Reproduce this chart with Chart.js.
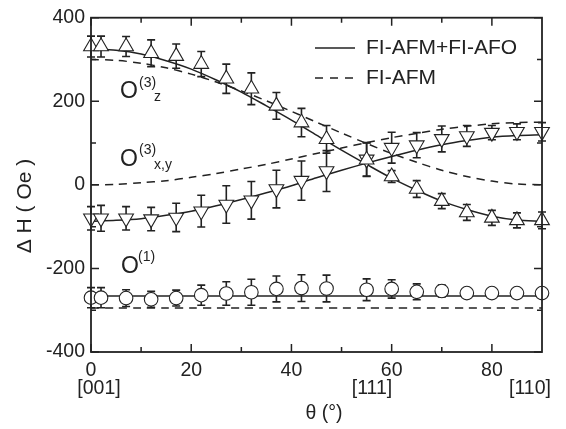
<!DOCTYPE html>
<html>
<head>
<meta charset="utf-8">
<script src="https://cdn.jsdelivr.net/npm/chart.js@4"></script>
<style>
html, body { margin: 0; padding: 0; background: #fff; }
</style>
</head>
<body>
<canvas id="chart" width="566" height="429"></canvas>
<script>
// measured angles (deg)
const angles = [0, 2, 7, 12, 17, 22, 27, 32, 37, 42, 47, 55, 60, 65, 70, 75, 80, 85, 90];
// O(3)z - up triangles
const o3zValues = [331, 331, 331, 315, 308, 289, 254, 230, 189, 149, 109, 60, 20, -10, -39, -66, -79, -85, -85];
const o3zErrors = [25, 25, 24, 32, 29, 30, 35, 38, 32, 34, 33, 40, 14, 20, 18, 19, 18, 18, 20];
// O(3)x,y - down triangles
const o3xyValues = [-80, -80, -80, -82, -78, -63, -47, -37, -10, 10, 33, 61, 89, 95, 110, 117, 125, 127, 127];
const o3xyErrors = [28, 31, 28, 28, 34, 38, 45, 45, 45, 47, 49, 40, 37, 30, 31, 25, 17, 19, 22];
// O(1) - circles
const o1Values = [-270, -270, -271, -274, -271, -264, -260, -257, -249, -247, -248, -251, -249, -256, -254, -259, -259, -259, -259];
const o1Errors = [24, 24, 20, 19, 19, 24, 28, 31, 31, 32, 32, 26, 22, 19, 14, 0, 0, 0, 0];

// model curves
const fitAngles = [0, 5, 10, 15, 20, 25, 30, 35, 40, 45, 50, 55, 60, 65, 70, 75, 80, 85, 90];
const fitO3zFull = [325, 322, 313, 297, 277, 251, 222, 189, 155, 119, 83, 49, 16, -13, -39, -59, -75, -84, -87];
const fitO3zAfm = [300, 298, 291, 280, 265, 246, 225, 201, 176, 150, 124, 99, 75, 54, 35, 20, 9, 2, 0];
const fitO3xyFull = [-87, -85, -81, -73, -63, -50, -35, -19, -2, 17, 35, 52, 68, 83, 96, 106, 114, 118, 120];
const fitO3xyAfm = [0, 1, 5, 10, 18, 27, 38, 49, 62, 75, 88, 101, 113, 123, 133, 140, 146, 149, 150];
const fitO1Full = [-266, -266, -266, -266, -266, -266, -266, -266, -266, -266, -266, -266, -266, -266, -266, -266, -266, -266, -266];
const fitO1Afm = [-295, -295, -295, -295, -295, -295, -295, -295, -295, -295, -295, -295, -295, -295, -295, -295, -295, -295, -295];

const xTicks = [0, 20, 40, 60, 80];
const xMinorTicks = [10, 30, 50, 70];
const yTicks = [-400, -200, 0, 200, 400];
const yMinorTicks = [-300, -100, 100, 300];
const legendLabels = ["FI-AFM+FI-AFO", "FI-AFM"];

const ink = "#222";
const fontFamily = "'Liberation Sans', Arial, sans-serif";

function toPoints(xs, ys) {
	return xs.map((x, i) => ({x: x, y: ys[i]}));
}

function markerSet(values, errors, style, radius, rotation) {
	return {
		data: toPoints(angles, values),
		errors: errors,
		showLine: false,
		pointStyle: style,
		pointRadius: radius,
		pointRotation: rotation,
		pointBackgroundColor: "#fff",
		pointBorderColor: ink,
		pointBorderWidth: 1.1,
		clip: false,
		order: 0,
	};
}

function curveSet(values, dashed) {
	return {
		data: toPoints(fitAngles, values),
		showLine: true,
		borderColor: ink,
		borderWidth: 1.5,
		borderDash: dashed ? [8, 6] : [],
		pointRadius: 0,
		tension: 0.3,
		order: 1,
	};
}

// error bars under the markers
const errorBars = {
	id: "errorBars",
	beforeDatasetsDraw(chart) {
		const ctx = chart.ctx;
		const xs = chart.scales.x;
		const ys = chart.scales.y;
		ctx.save();
		ctx.strokeStyle = ink;
		ctx.lineWidth = 1.6;
		chart.data.datasets.forEach((ds) => {
			if (!ds.errors) return;
			ds.data.forEach((p, i) => {
				const e = ds.errors[i];
				if (!e) return;
				const px = xs.getPixelForValue(p.x);
				const top = ys.getPixelForValue(p.y + e);
				const bot = ys.getPixelForValue(p.y - e);
				ctx.beginPath();
				ctx.moveTo(px, top);
				ctx.lineTo(px, bot);
				ctx.moveTo(px - 4, top);
				ctx.lineTo(px + 4, top);
				ctx.moveTo(px - 4, bot);
				ctx.lineTo(px + 4, bot);
				ctx.stroke();
			});
		});
		ctx.restore();
	},
};

// frame with inward ticks, legend and labels
const decorations = {
	id: "decorations",
	afterDatasetsDraw(chart) {
		const ctx = chart.ctx;
		const a = chart.chartArea;
		const xs = chart.scales.x;
		const ys = chart.scales.y;
		ctx.save();
		ctx.strokeStyle = ink;
		ctx.lineWidth = 1.8;
		ctx.strokeRect(a.left, a.top, a.right - a.left, a.bottom - a.top);
		ctx.lineWidth = 1.5;
		ctx.beginPath();
		const xMarks = xTicks.map((v) => [v, 8]).concat(xMinorTicks.map((v) => [v, 5]));
		xMarks.forEach(([v, len]) => {
			const px = xs.getPixelForValue(v);
			ctx.moveTo(px, a.bottom);
			ctx.lineTo(px, a.bottom - len);
			ctx.moveTo(px, a.top);
			ctx.lineTo(px, a.top + len);
		});
		const yMarks = yTicks.map((v) => [v, 8]).concat(yMinorTicks.map((v) => [v, 5]));
		yMarks.forEach(([v, len]) => {
			const py = ys.getPixelForValue(v);
			ctx.moveTo(a.left, py);
			ctx.lineTo(a.left + len, py);
			ctx.moveTo(a.right, py);
			ctx.lineTo(a.right - len, py);
		});
		ctx.stroke();
		ctx.restore();
	},
	afterDraw(chart) {
		const ctx = chart.ctx;
		ctx.save();
		ctx.fillStyle = ink;
		ctx.strokeStyle = ink;

		// legend
		ctx.lineWidth = 1.5;
		ctx.beginPath();
		ctx.moveTo(315, 48);
		ctx.lineTo(355, 48);
		ctx.stroke();
		ctx.setLineDash([8, 7]);
		ctx.beginPath();
		ctx.moveTo(315, 78);
		ctx.lineTo(357, 78);
		ctx.stroke();
		ctx.setLineDash([]);
		ctx.font = "21px " + fontFamily;
		ctx.textBaseline = "middle";
		ctx.textAlign = "left";
		ctx.fillText(legendLabels[0], 366, 48);
		ctx.fillText(legendLabels[1], 366, 78);

		// series labels
		ctx.textBaseline = "alphabetic";
		ctx.font = "23px " + fontFamily;
		ctx.fillText("O", 120, 98);
		ctx.fillText("O", 120, 166);
		ctx.fillText("O", 121, 273);
		ctx.font = "14px " + fontFamily;
		ctx.fillText("(3)", 139, 87);
		ctx.fillText("z", 154, 101);
		ctx.fillText("(3)", 139, 154);
		ctx.fillText("x,y", 154, 169);
		ctx.fillText("(1)", 138, 261);

		// direction labels and axis titles
		ctx.font = "19.5px " + fontFamily;
		ctx.textAlign = "center";
		ctx.textBaseline = "middle";
		ctx.fillText("[001]", 99, 389);
		ctx.fillText("[111]", 372, 389);
		ctx.fillText("[110]", 530, 389);
		ctx.fillText("θ (°)", 324, 414);
		ctx.translate(25, 206);
		ctx.rotate(-Math.PI / 2);
		ctx.font = "21px " + fontFamily;
		ctx.fillText("Δ H ( Oe )", 0, 0);
		ctx.restore();
	},
};

const canvas = document.getElementById("chart").getContext("2d");
new Chart(canvas, {
	type: "scatter",
	data: {
		datasets: [
			markerSet(o3zValues, o3zErrors, "triangle", 8.5, 0),
			markerSet(o3xyValues, o3xyErrors, "triangle", 8.5, 180),
			markerSet(o1Values, o1Errors, "circle", 6.8, 0),
			curveSet(fitO3zFull, false),
			curveSet(fitO3zAfm, true),
			curveSet(fitO3xyFull, false),
			curveSet(fitO3xyAfm, true),
			curveSet(fitO1Full, false),
			curveSet(fitO1Afm, true),
		],
	},
	options: {
		responsive: false,
		animation: false,
		layout: {padding: {left: 0, top: 15, right: 24, bottom: 0}},
		scales: {
			x: {
				type: "linear",
				min: 0,
				max: 90,
				afterBuildTicks: (scale) => {
					scale.ticks = xTicks.map((v) => ({value: v}));
				},
				afterFit: (scale) => {
					scale.height = 77;
				},
				grid: {display: false, drawTicks: false},
				border: {display: false},
				ticks: {
					color: ink,
					padding: 7,
					maxRotation: 0,
					font: {family: fontFamily, size: 19.5},
				},
			},
			y: {
				type: "linear",
				min: -400,
				max: 400,
				afterBuildTicks: (scale) => {
					scale.ticks = yTicks.map((v) => ({value: v}));
				},
				afterFit: (scale) => {
					scale.width = 91;
				},
				grid: {display: false, drawTicks: false},
				border: {display: false},
				ticks: {
					color: ink,
					padding: 6,
					font: {family: fontFamily, size: 19.5},
				},
			},
		},
		plugins: {
			legend: {display: false},
			tooltip: {enabled: false},
		},
	},
	plugins: [errorBars, decorations],
});
</script>
</body>
</html>
